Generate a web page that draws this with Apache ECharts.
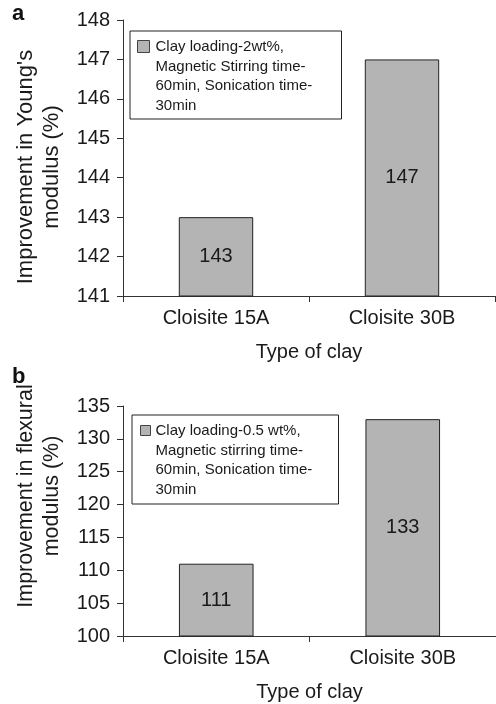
<!DOCTYPE html>
<html>
<head>
<meta charset="utf-8">
<script src="https://cdn.jsdelivr.net/npm/echarts@6/dist/echarts.min.js"></script>
<style>
html,body{margin:0;padding:0;background:#fff;}
#chart{width:496px;height:704px;}
</style>
</head>
<body>
<div id="chart"></div>
<script>
const categories = ['Cloisite 15A', 'Cloisite 30B'];
const youngValues = [143, 147];
const flexValues = [111, 133];
const youngAxis = { min: 141, max: 148, interval: 1 };
const flexAxis = { min: 100, max: 135, interval: 5 };
const youngSeriesName = 'Clay loading-2wt%,\nMagnetic Stirring time-\n60min, Sonication time-\n30min';
const flexSeriesName = 'Clay loading-0.5 wt%,\nMagnetic stirring time-\n60min, Sonication time-\n30min';
const panelLabels = ['a', 'b'];
const xAxisName = 'Type of clay';
const youngYName = "Improvement in Young's\nmodulus (%)";
const flexYName = 'Improvement in flexural\nmodulus (%)';

const FONT = '"Liberation Sans", Arial, sans-serif';
const TXT = '#1a1a1a';
const BAR = '#b4b4b4';

const chart = echarts.init(document.getElementById('chart'), null, { renderer: 'canvas' });

function xAx(gridIndex) {
  return {
    type: 'category', gridIndex, data: categories,
    axisLine: { lineStyle: { color: '#333', width: 1 } },
    axisTick: { show: true, alignWithLabel: false, length: 6, lineStyle: { color: '#333' } },
    axisLabel: { color: TXT, fontSize: 20, fontFamily: FONT, margin: 12 },
    name: xAxisName, nameLocation: 'middle', nameGap: 46,
    nameTextStyle: { color: TXT, fontSize: 20, fontFamily: FONT }
  };
}
function yAx(gridIndex, ax, name, pad, fs) {
  return {
    type: 'value', gridIndex, min: ax.min, max: ax.max, interval: ax.interval,
    splitLine: { show: false },
    axisLine: { show: true, lineStyle: { color: '#333', width: 1 } },
    axisTick: { show: true, length: 6, lineStyle: { color: '#333' } },
    axisLabel: { color: TXT, fontSize: 20, fontFamily: FONT, margin: 13 },
    name, nameLocation: 'middle', nameGap: 58, nameMoveOverlap: false,
    nameTextStyle: { color: TXT, fontSize: fs, fontFamily: FONT, lineHeight: 26, padding: pad }
  };
}
function legendIcon(w, h, sy, s) {
  return 'path://M0,0 M' + w + ',' + h + ' M0,' + sy + ' h' + s + ' v' + s + ' h-' + s + ' Z';
}

const option = {
  animation: false,
  backgroundColor: '#fff',
  title: [
    { text: panelLabels[0], left: 12, top: 3, padding: 0, textStyle: { fontSize: 22, fontWeight: 'bold', color: '#111', fontFamily: FONT } },
    { text: panelLabels[1], left: 12, top: 366, padding: 0, textStyle: { fontSize: 22, fontWeight: 'bold', color: '#111', fontFamily: FONT } }
  ],
  grid: [
    { left: 123, top: 20, width: 372, height: 276, containLabel: false },
    { left: 123, top: 406, width: 373, height: 230, containLabel: false }
  ],
  legend: [
    {
      data: [youngSeriesName], left: 130, top: 31, orient: 'vertical',
      padding: [6, 6, 3, 7], backgroundColor: '#fff', borderColor: '#222', borderWidth: 1,
      itemWidth: 13, itemHeight: 78, selectedMode: false,
      icon: legendIcon(13, 78, 3, 12),
      itemStyle: { color: BAR, borderColor: '#444', borderWidth: 1 },
      textStyle: { color: TXT, fontSize: 15, fontFamily: FONT, lineHeight: 19.5, width: 180 }
    },
    {
      data: [flexSeriesName], left: 132, top: 415, orient: 'vertical',
      padding: [6, 6, 4, 8], backgroundColor: '#fff', borderColor: '#222', borderWidth: 1,
      itemWidth: 10, itemHeight: 78, selectedMode: false,
      icon: legendIcon(10, 78, 4, 10),
      itemStyle: { color: BAR, borderColor: '#444', borderWidth: 1 },
      textStyle: { color: TXT, fontSize: 15, fontFamily: FONT, lineHeight: 19.5, width: 177 }
    }
  ],
  xAxis: [xAx(0), xAx(1)],
  yAxis: [yAx(0, youngAxis, youngYName, [0, 18, 0, 0], 22), yAx(1, flexAxis, flexYName, [0, 0, 0, 50], 21.5)],
  series: [
    {
      type: 'bar', name: youngSeriesName, xAxisIndex: 0, yAxisIndex: 0, data: youngValues,
      barWidth: '40%',
      itemStyle: { color: BAR, borderColor: '#222', borderWidth: 1 },
      label: { show: true, position: 'inside', color: TXT, fontSize: 20, fontFamily: FONT }
    },
    {
      type: 'bar', name: flexSeriesName, xAxisIndex: 1, yAxisIndex: 1, data: flexValues,
      barWidth: '40%',
      itemStyle: { color: BAR, borderColor: '#222', borderWidth: 1 },
      label: { show: true, position: 'inside', color: TXT, fontSize: 20, fontFamily: FONT }
    }
  ]
};
chart.setOption(option);
</script>
</body>
</html>
